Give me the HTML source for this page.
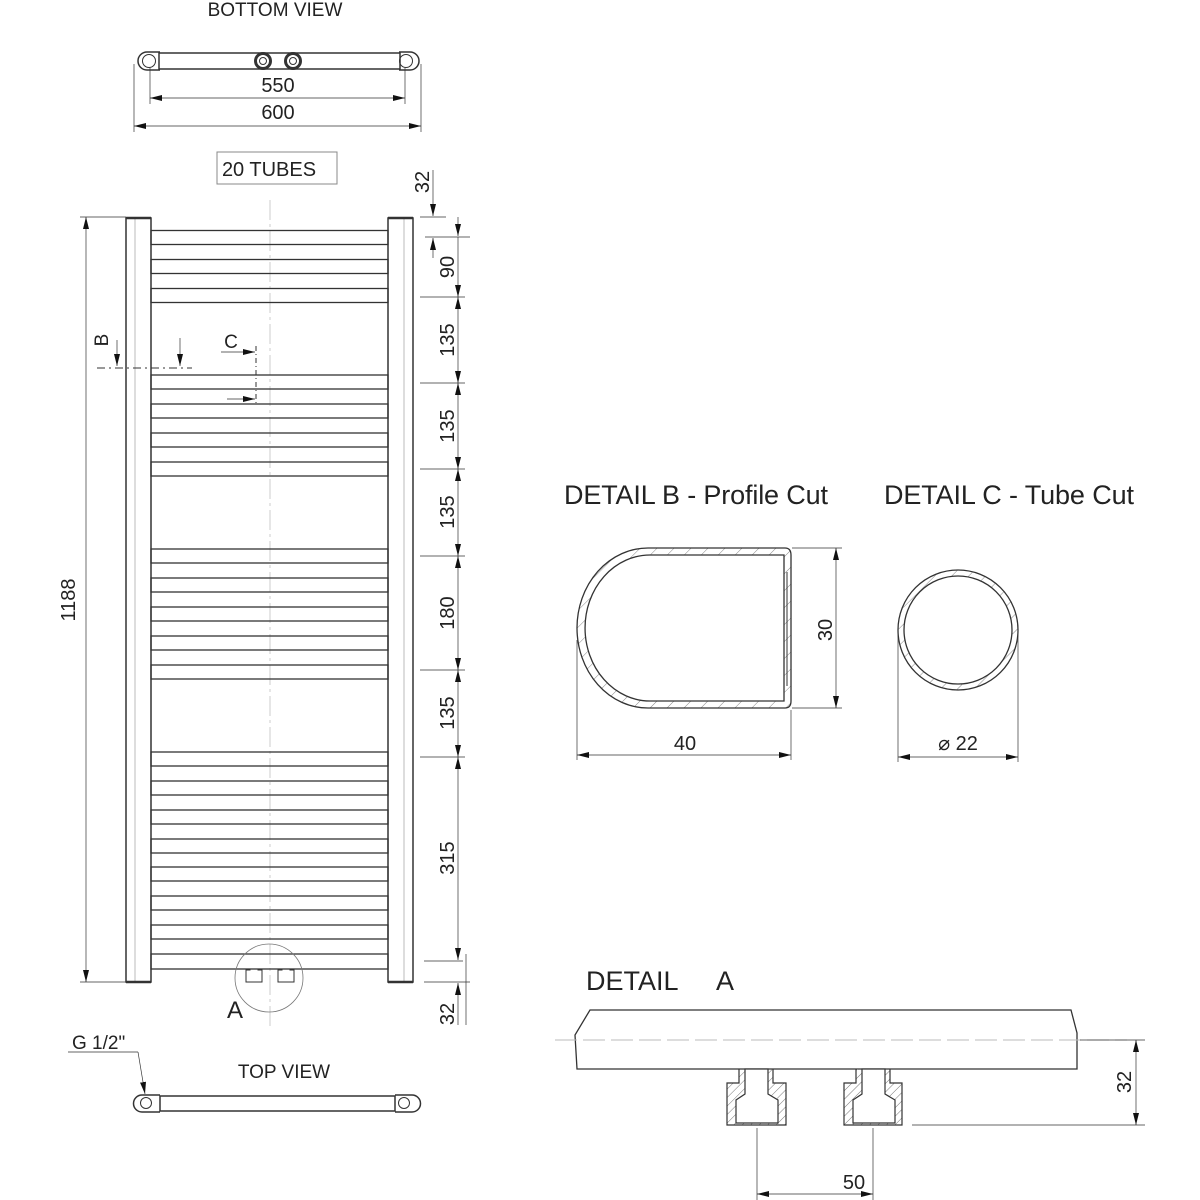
<!DOCTYPE html>
<html><head><meta charset="utf-8"><style>
html,body{margin:0;padding:0;background:#fff;}
svg{display:block;}
text{font-family:"Liberation Sans",sans-serif;fill:#222;}
</style></head><body>
<svg width="1200" height="1200" viewBox="0 0 1200 1200" xmlns="http://www.w3.org/2000/svg">
<defs>
<marker id="a" viewBox="0 0 12 6" refX="12" refY="3" markerWidth="12" markerHeight="6" markerUnits="userSpaceOnUse" orient="auto-start-reverse"><path d="M0,0L12,3L0,6z" fill="#111"/></marker>
<pattern id="h" width="12" height="12" patternUnits="userSpaceOnUse" patternTransform="rotate(45)"><line x1="0" y1="0" x2="0" y2="12" stroke="#888" stroke-width="1"/></pattern>
<pattern id="h2" width="6" height="6" patternUnits="userSpaceOnUse" patternTransform="rotate(45)"><line x1="0" y1="0" x2="0" y2="6" stroke="#777" stroke-width="1"/></pattern>
</defs>
<g stroke="#333" fill="none" stroke-width="1">
<rect x="159" y="53" width="241" height="16" stroke-width="1.5"/>
<path d="M160,52 H147 A9,9 0 0 0 147,70 H160" stroke-width="1.5"/>
<path d="M399,52 H410 A9,9 0 0 1 410,70 H399" stroke-width="1.5"/>
<circle cx="149" cy="61" r="6.5"/><circle cx="406" cy="61" r="6.5"/>
<circle cx="263" cy="61" r="7.5" stroke-width="3"/><circle cx="263" cy="61" r="3.5"/>
<circle cx="293" cy="61" r="7.5" stroke-width="3"/><circle cx="293" cy="61" r="3.5"/>
<line x1="150" y1="68" x2="150" y2="104" stroke-width="0.7"/>
<line x1="405" y1="68" x2="405" y2="104" stroke-width="0.7"/>
<line x1="134" y1="64" x2="134" y2="132" stroke-width="0.7"/>
<line x1="421" y1="64" x2="421" y2="132" stroke-width="0.7"/>
<line x1="150" y1="98" x2="405" y2="98" stroke-width="0.7" marker-start="url(#a)" marker-end="url(#a)"/>
<line x1="134" y1="126" x2="421" y2="126" stroke-width="0.7" marker-start="url(#a)" marker-end="url(#a)"/>
<rect x="217" y="152" width="120" height="32" stroke="#888"/>

<line x1="270" y1="200" x2="270" y2="1030" stroke="#ccc" stroke-dasharray="20,4,3,4"/>
<path d="M126,982 V218 H151 V982 Z" stroke-width="1.5"/>
<line x1="135" y1="218" x2="135" y2="982" stroke="#bbb"/>
<path d="M388,982 V218 H413 V982 Z" stroke-width="1.5"/>
<line x1="404" y1="218" x2="404" y2="982" stroke="#bbb"/>
<line x1="126" y1="218" x2="151" y2="218" stroke-width="2.5"/>
<line x1="388" y1="218" x2="413" y2="218" stroke-width="2.5"/>
<line x1="126" y1="982" x2="151" y2="982" stroke-width="2.5"/>
<line x1="388" y1="982" x2="413" y2="982" stroke-width="2.5"/>
<g stroke-width="1.3">
<rect x="151" y="230.5" width="237" height="14"/><rect x="151" y="259.5" width="237" height="14"/><rect x="151" y="288.5" width="237" height="14"/>
<rect x="151" y="375" width="237" height="14"/><rect x="151" y="404" width="237" height="14"/><rect x="151" y="433" width="237" height="14"/><rect x="151" y="462" width="237" height="14"/>
<rect x="151" y="549" width="237" height="14"/><rect x="151" y="578" width="237" height="14"/><rect x="151" y="607" width="237" height="14"/><rect x="151" y="636" width="237" height="14"/><rect x="151" y="665" width="237" height="14"/>
<rect x="151" y="752" width="237" height="14"/><rect x="151" y="781" width="237" height="14"/><rect x="151" y="810" width="237" height="14"/><rect x="151" y="839" width="237" height="14"/><rect x="151" y="867" width="237" height="14"/><rect x="151" y="896" width="237" height="14"/><rect x="151" y="925" width="237" height="14"/><rect x="151" y="954" width="237" height="15"/>
</g>
<circle cx="269" cy="978" r="34" stroke="#777" stroke-width="0.8"/>
<path d="M246,982 V970 H250 V969 H258 V970 H262 V982 Z"/>
<path d="M278,982 V970 H282 V969 H290 V970 H294 V982 Z"/>
<line x1="80" y1="217" x2="126" y2="217" stroke-width="0.7"/>
<line x1="80" y1="982" x2="126" y2="982" stroke-width="0.7"/>
<line x1="86" y1="217" x2="86" y2="982" stroke-width="0.7" marker-start="url(#a)" marker-end="url(#a)"/>
<line x1="97" y1="368" x2="192" y2="368" stroke-dasharray="8,4,2,4"/>
<line x1="117" y1="340" x2="117" y2="366" stroke-width="0.7" marker-end="url(#a)"/>
<line x1="180" y1="338" x2="180" y2="366" stroke-width="0.7" marker-end="url(#a)"/>
<line x1="256" y1="346" x2="256" y2="404" stroke-dasharray="5,3,1,3"/>
<line x1="221" y1="352" x2="255" y2="352" stroke-width="0.7" marker-end="url(#a)"/>
<line x1="227" y1="399" x2="255" y2="399" stroke-width="0.7" marker-end="url(#a)"/>
<g stroke-width="0.7">
<line x1="420" y1="217" x2="446" y2="217"/>
<line x1="425" y1="237" x2="470" y2="237"/>
<line x1="433" y1="170" x2="433" y2="216" marker-end="url(#a)"/>
<line x1="433" y1="238" x2="433" y2="258" marker-start="url(#a)"/>
<line x1="458" y1="217" x2="458" y2="236" marker-end="url(#a)"/>
<line x1="458" y1="237" x2="458" y2="297" marker-end="url(#a)"/>
<line x1="420" y1="297" x2="465" y2="297"/>
<line x1="458" y1="297" x2="458" y2="383" marker-start="url(#a)" marker-end="url(#a)"/>
<line x1="420" y1="383" x2="465" y2="383"/>
<line x1="458" y1="383" x2="458" y2="469" marker-start="url(#a)" marker-end="url(#a)"/>
<line x1="420" y1="469" x2="465" y2="469"/>
<line x1="458" y1="469" x2="458" y2="556" marker-start="url(#a)" marker-end="url(#a)"/>
<line x1="420" y1="556" x2="465" y2="556"/>
<line x1="458" y1="556" x2="458" y2="670" marker-start="url(#a)" marker-end="url(#a)"/>
<line x1="420" y1="670" x2="465" y2="670"/>
<line x1="458" y1="670" x2="458" y2="757" marker-start="url(#a)" marker-end="url(#a)"/>
<line x1="420" y1="757" x2="465" y2="757"/>
<line x1="458" y1="757" x2="458" y2="960" marker-start="url(#a)" marker-end="url(#a)"/>
<line x1="424" y1="961" x2="463" y2="961"/>
<line x1="424" y1="982" x2="470" y2="982"/>
<line x1="466" y1="954" x2="466" y2="1025"/>
<line x1="458" y1="983" x2="458" y2="1025" marker-start="url(#a)"/>
</g>

<rect x="160" y="1096" width="235" height="15" stroke-width="1.5"/>
<path d="M160,1095 H142 A8.5,8.5 0 0 0 142,1112 H160" stroke-width="1.5"/>
<path d="M395,1095 H412 A8.5,8.5 0 0 1 412,1112 H395" stroke-width="1.5"/>
<circle cx="146" cy="1103" r="5.5"/><circle cx="404" cy="1103" r="5.5"/>
<line x1="68" y1="1052" x2="138" y2="1052" stroke-width="0.7"/>
<line x1="138" y1="1052" x2="145" y2="1094" stroke-width="0.7" marker-end="url(#a)"/>

<path d="M648,548 H785 Q791,548 791,555 V701 Q791,708 785,708 H648 A71,80 0 0 1 648,548 Z" fill="url(#h)" stroke-width="1.3"/>
<path d="M650,555 H784 V701 H650 A65,73 0 0 1 650,555 Z" fill="#fff" stroke-width="1.3"/>
<line x1="787" y1="572" x2="787" y2="686"/>
<g stroke-width="0.7">
<line x1="792" y1="548" x2="842" y2="548"/>
<line x1="792" y1="708" x2="842" y2="708"/>
<line x1="836" y1="548" x2="836" y2="708" marker-start="url(#a)" marker-end="url(#a)"/>
<line x1="577" y1="640" x2="577" y2="760"/>
<line x1="791" y1="710" x2="791" y2="760"/>
<line x1="577" y1="755" x2="791" y2="755" marker-start="url(#a)" marker-end="url(#a)"/>
</g>
<circle cx="958" cy="630" r="60" fill="url(#h)" stroke-width="1.3"/>
<circle cx="958" cy="630" r="54" fill="#fff" stroke-width="1.3"/>
<g stroke-width="0.7">
<line x1="898" y1="630" x2="898" y2="762"/>
<line x1="1018" y1="630" x2="1018" y2="762"/>
<line x1="898" y1="757" x2="1018" y2="757" marker-start="url(#a)" marker-end="url(#a)"/>
</g>

<path d="M590,1010 H1071 L1077,1033 V1069 H577 L575,1035 Z" stroke-width="1.3"/>
<line x1="555" y1="1040" x2="1127" y2="1040" stroke="#bbb" stroke-dasharray="22,6"/>
<g stroke-width="1.2">
<path d="M739,1069 V1083 H727 V1125 H786 V1083 H773 V1069" fill="url(#h2)"/>
<path d="M745,1069 V1094 L736,1100 V1123 H778 V1100 L768,1094 V1069 Z" fill="#fff"/>
<path d="M856,1069 V1083 H844 V1125 H902 V1083 H890 V1069" fill="url(#h2)"/>
<path d="M862,1069 V1094 L853,1100 V1123 H895 V1100 L885,1094 V1069 Z" fill="#fff"/>
</g>
<g stroke-width="0.7">
<line x1="1080" y1="1040" x2="1145" y2="1040"/>
<line x1="912" y1="1125" x2="1145" y2="1125"/>
<line x1="1136" y1="1040" x2="1136" y2="1125" marker-start="url(#a)" marker-end="url(#a)"/>
<line x1="757" y1="1128" x2="757" y2="1200"/>
<line x1="873" y1="1128" x2="873" y2="1200"/>
<line x1="757" y1="1194" x2="873" y2="1194" marker-start="url(#a)" marker-end="url(#a)"/>
</g>
</g>

<g font-size="20">
<text x="275" y="16" text-anchor="middle" font-size="19">BOTTOM VIEW</text>
<text x="278" y="92" text-anchor="middle">550</text>
<text x="278" y="119" text-anchor="middle">600</text>
<text x="269" y="176" text-anchor="middle">20 TUBES</text>
<text x="284" y="1078" text-anchor="middle" font-size="19">TOP VIEW</text>
<text x="72" y="1049" font-size="19">G 1/2"</text>
<text x="235" y="1018" text-anchor="middle" font-size="24">A</text>
<text x="231" y="348" text-anchor="middle" font-size="19">C</text>
<text transform="translate(108,340) rotate(-90)" text-anchor="middle" font-size="19">B</text>
<text transform="translate(75,600) rotate(-90)" text-anchor="middle">1188</text>
<text transform="translate(429,182) rotate(-90)" text-anchor="middle">32</text>
<text transform="translate(454,267) rotate(-90)" text-anchor="middle">90</text>
<text transform="translate(454,340) rotate(-90)" text-anchor="middle">135</text>
<text transform="translate(454,426) rotate(-90)" text-anchor="middle">135</text>
<text transform="translate(454,512) rotate(-90)" text-anchor="middle">135</text>
<text transform="translate(454,613) rotate(-90)" text-anchor="middle">180</text>
<text transform="translate(454,713) rotate(-90)" text-anchor="middle">135</text>
<text transform="translate(454,858) rotate(-90)" text-anchor="middle">315</text>
<text transform="translate(454,1014) rotate(-90)" text-anchor="middle">32</text>
<text x="564" y="504" font-size="27" textLength="264">DETAIL B - Profile Cut</text>
<text x="884" y="504" font-size="27" textLength="250">DETAIL C - Tube Cut</text>
<text x="586" y="990" font-size="27">DETAIL</text>
<text x="716" y="990" font-size="27">A</text>
<text transform="translate(832,630) rotate(-90)" text-anchor="middle">30</text>
<text x="685" y="750" text-anchor="middle">40</text>
<text x="958" y="750" text-anchor="middle">⌀ 22</text>
<text transform="translate(1131,1082) rotate(-90)" text-anchor="middle">32</text>
<text x="854" y="1189" text-anchor="middle">50</text>
</g>
</svg>
</body></html>
